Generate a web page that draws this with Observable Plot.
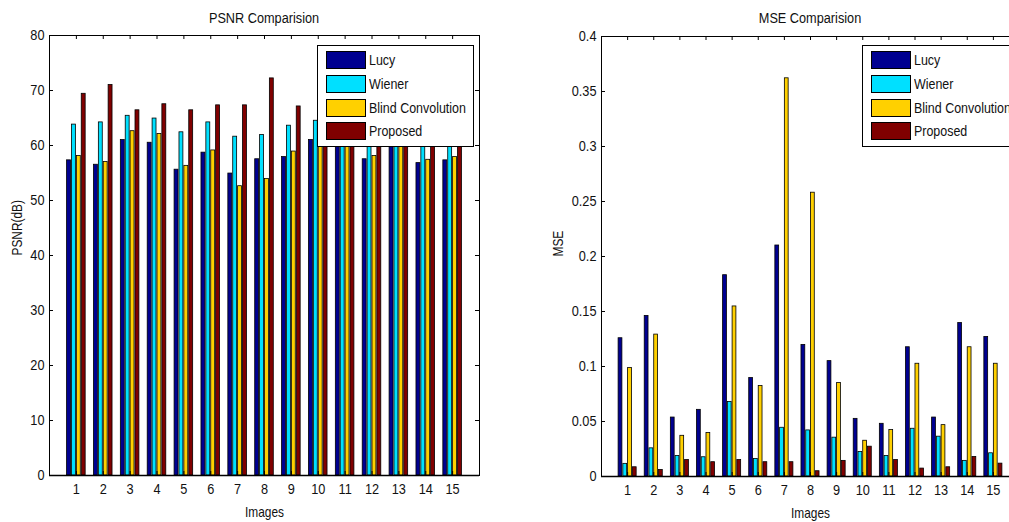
<!DOCTYPE html>
<html>
<head>
<meta charset="utf-8">
<script src="https://cdn.jsdelivr.net/npm/d3@7"></script>
<script src="https://cdn.jsdelivr.net/npm/@observablehq/plot@0.6"></script>
<style>
  html, body { margin: 0; padding: 0; background: #fff; overflow: hidden; }
  #wrap { position: relative; width: 1009px; height: 522px; overflow: hidden; font-family: "Liberation Sans", Arial, sans-serif; }
  .panel { position: absolute; top: 0; height: 522px; }
  .panel svg { max-width: none !important; width: auto; display: block; }
  .title { position: absolute; font-size: 15.5px; white-space: nowrap; transform: translate(-50%, -50%) scaleX(0.82); color: #111; }
  .legend { position: absolute; background: #fff; border: 1px solid #000; box-sizing: border-box; }
  .lrow { position: absolute; left: 0; height: 18px; white-space: nowrap; }
  .sw { position: absolute; width: 40px; height: 18px; border: 1px solid #000; box-sizing: border-box; }
  .lt { position: absolute; font-size: 15px; line-height: 18px; transform: scaleX(0.83); transform-origin: left center; color: #111; }
</style>
</head>
<body>
<div id="wrap"></div>
<script>
// ---------- data ----------
const images = [1, 2, 3, 4, 5, 6, 7, 8, 9, 10, 11, 12, 13, 14, 15];
const seriesNames = ["Lucy", "Wiener", "Blind Convolution", "Proposed"];
const seriesColors = ["#000090", "#00E0FF", "#FFD000", "#800000"];

const psnrLucy     = [57.3, 56.5, 61.0, 60.5, 55.6, 58.7, 54.9, 57.5, 57.9, 61.0, 61.3, 57.5, 60.8, 56.8, 57.3];
const psnrWiener   = [63.8, 64.2, 65.4, 64.9, 62.4, 64.2, 61.6, 61.9, 63.6, 64.5, 65.4, 63.7, 62.5, 66.6, 64.9];
const psnrBlind    = [58.1, 57.0, 62.6, 62.1, 56.3, 59.1, 52.6, 53.9, 58.9, 63.0, 61.9, 58.1, 61.4, 57.4, 57.9];
const psnrProposed = [69.4, 71.0, 66.4, 67.5, 66.4, 67.3, 67.3, 72.2, 67.1, 63.8, 66.4, 69.6, 68.9, 65.6, 67.4];

const mseLucy     = [0.1257, 0.146, 0.0536, 0.0606, 0.183, 0.0895, 0.210, 0.1196, 0.1049, 0.0524, 0.0479, 0.1175, 0.0536, 0.1395, 0.1269];
const mseWiener   = [0.0115, 0.0256, 0.0187, 0.0175, 0.0678, 0.016, 0.0443, 0.0419, 0.0353, 0.0223, 0.0187, 0.0434, 0.0362, 0.0142, 0.0211];
const mseBlind    = [0.0986, 0.129, 0.037, 0.0395, 0.1546, 0.0823, 0.362, 0.258, 0.085, 0.0325, 0.0422, 0.1025, 0.0467, 0.1175, 0.1025];
const mseProposed = [0.0084, 0.006, 0.015, 0.013, 0.015, 0.013, 0.013, 0.0048, 0.0142, 0.0271, 0.015, 0.0072, 0.0084, 0.0178, 0.0117];

const psnrTicks = [0, 10, 20, 30, 40, 50, 60, 70, 80];
const mseTicks = [0, 0.05, 0.1, 0.15, 0.2, 0.25, 0.3, 0.35, 0.4];
const xTicks = images;

// ---------- helpers ----------
function toRows(seriesArrays) {
  const rows = [];
  seriesArrays.forEach((arr, k) => {
    arr.forEach((v, i) => rows.push({image: images[i], series: seriesNames[k], k, value: v}));
  });
  return rows;
}

const groupWidth = 4 / 5.5;         // MATLAB grouped bar width
const slot = groupWidth / 4;
const barW = slot * 0.8;

function compressText(svg, factor) {
  svg.querySelectorAll("text").forEach(t => {
    const tr = t.getAttribute("transform") || "";
    t.setAttribute("transform", tr + ` scale(${factor},1)`);
  });
}

function chart({rows, yDomain, yTicks, yFmt, yLabel, width, ml, mr, mt, mb, labelDx}) {
  const height = 522;
  const plotW = width - ml - mr;
  const plotH = height - mt - mb;
  const svg = Plot.plot({
    width, height,
    marginLeft: ml, marginRight: mr, marginTop: mt, marginBottom: mb,
    style: {fontFamily: "Liberation Sans, Arial, sans-serif", fontSize: "15px", background: "transparent", color: "#111", maxWidth: "none"},
    x: {type: "linear", domain: [0, 16], axis: null},
    y: {domain: yDomain, axis: null},
    color: {domain: seriesNames, range: seriesColors},
    marks: [
      Plot.rectY(rows, {
        x1: d => d.image + (d.k - 1.5) * slot - barW / 2,
        x2: d => d.image + (d.k - 1.5) * slot + barW / 2,
        y: "value",
        fill: "series",
        stroke: "#000",
        strokeWidth: 0.8
      }),
      Plot.frame({stroke: "#000", strokeWidth: 1}),
      Plot.ruleY([yDomain[0]], {stroke: "#000", strokeWidth: 1.5}),
      // inward ticks (box on)
      Plot.tickY(yTicks, {y: d => d, insetRight: plotW - 4, stroke: "#000"}),
      Plot.tickY(yTicks, {y: d => d, insetLeft: plotW - 4, stroke: "#000"}),
      Plot.tickX(xTicks, {x: d => d, insetTop: plotH - 4, stroke: "#000"}),
      Plot.tickX(xTicks, {x: d => d, insetBottom: plotH - 4, stroke: "#000"}),
      Plot.axisY(yTicks, {tickSize: 0, tickPadding: 5, tickFormat: yFmt, fontSize: 15, label: null}),
      Plot.axisX(xTicks, {tickSize: 0, tickPadding: 8, tickFormat: d => String(d), fontSize: 15, label: null}),
      Plot.text(["Images"], {frameAnchor: "bottom", dy: 37, fontSize: 14, lineAnchor: "middle"}),
      Plot.text([yLabel], {frameAnchor: "left", dx: labelDx, rotate: -90, fontSize: 14, lineAnchor: "middle"})
    ]
  });
  svg.style.maxWidth = "none";
  svg.setAttribute("width", width);
  svg.setAttribute("height", height);
  compressText(svg, 0.85);
  return svg;
}

function legend(container, left, top, w, h) {
  const lg = document.createElement("div");
  lg.className = "legend";
  Object.assign(lg.style, {left: left + "px", top: top + "px", width: w + "px", height: h + "px"});
  seriesNames.forEach((name, k) => {
    const row = document.createElement("div");
    row.className = "lrow";
    row.style.top = (5 + k * 23.8) + "px";
    const sw = document.createElement("div");
    sw.className = "sw";
    sw.style.left = "8px";
    sw.style.background = seriesColors[k];
    const tx = document.createElement("div");
    tx.className = "lt";
    tx.style.left = "51px";
    tx.textContent = name;
    row.appendChild(sw);
    row.appendChild(tx);
    lg.appendChild(row);
  });
  container.appendChild(lg);
}

function title(container, text, cx, cy) {
  const t = document.createElement("div");
  t.className = "title";
  t.style.left = cx + "px";
  t.style.top = cy + "px";
  t.textContent = text;
  container.appendChild(t);
}

// ---------- build ----------
const wrap = document.getElementById("wrap");

const left = document.createElement("div");
left.className = "panel";
left.style.left = "0px";
left.style.width = "500px";
left.appendChild(chart({
  rows: toRows([psnrLucy, psnrWiener, psnrBlind, psnrProposed]),
  yDomain: [0, 80], yTicks: psnrTicks, yFmt: d => String(d), yLabel: "PSNR(dB)",
  width: 500, ml: 49, mr: 21, mt: 35, mb: 47, labelDx: -32
}));
wrap.appendChild(left);

const right = document.createElement("div");
right.className = "panel";
right.style.left = "520px";
right.style.width = "520px";
right.appendChild(chart({
  rows: toRows([mseLucy, mseWiener, mseBlind, mseProposed]),
  yDomain: [0, 0.4], yTicks: mseTicks, yFmt: d => String(+d.toFixed(2)), yLabel: "MSE",
  width: 520, ml: 81, mr: 21, mt: 36, mb: 46, labelDx: -43
}));
wrap.appendChild(right);

legend(wrap, 317, 45, 157, 102);
legend(wrap, 862, 45, 157, 102);
title(wrap, "PSNR Comparision", 264, 18);
title(wrap, "MSE Comparision", 810, 18);
</script>
</body>
</html>
